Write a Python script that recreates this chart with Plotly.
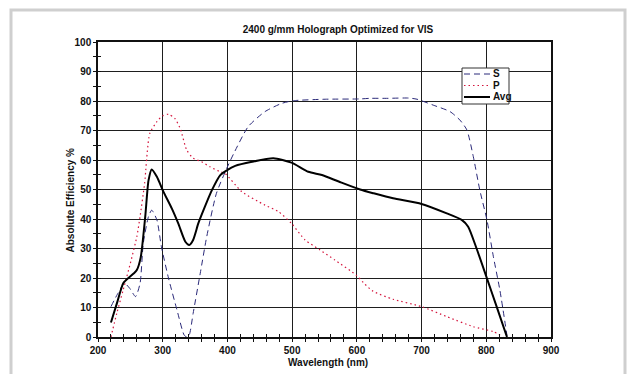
import plotly.graph_objects as go

# ---- data ----
wl_s = [220, 230, 241, 249, 258, 265, 270, 278, 283, 291, 298, 309, 322, 333, 337, 341, 347, 358, 368, 383,
        399, 410, 432, 458, 484, 502, 551, 605, 620, 646, 680, 693, 718, 744, 759, 770, 780, 790, 801, 811, 821, 832]
s_eff = [10.3, 14.5, 18.2, 16.5, 13.7, 18.2, 31.8, 40.8, 43.0, 39.7, 30.6, 19.9, 9.2, 0.7, 0.0, 0.7, 8.0, 21.6, 34.0, 48.7,
         57.2, 62.3, 71.3, 76.4, 79.2, 80.1, 80.6, 80.7, 80.9, 80.9, 81.0, 80.6, 78.6, 76.4, 73.6, 70.2, 61.1, 49.8, 39.7, 27.2, 15.9, 0.5]

wl_p = [220, 229, 239, 250, 260, 265, 272, 280, 291, 300, 309, 319, 327, 337, 347, 360, 373, 389, 396, 422,
        458, 479, 499, 520, 543, 566, 600, 612, 625, 656, 700, 739, 780, 811, 826]
p_eff = [0.0, 8.0, 16.0, 25.0, 34.0, 40.8, 52.0, 69.0, 73.0, 75.0, 75.5, 74.0, 70.7, 63.4, 60.6, 59.4, 57.7, 56.0, 55.5, 49.3,
         44.7, 42.5, 38.5, 32.9, 29.5, 26.1, 20.8, 18.0, 15.5, 12.8, 10.3, 6.9, 3.5, 1.8, 0.0]

wl_a = [220, 230, 239, 247, 255, 260, 266, 273, 278, 283, 291, 301, 314, 324, 335, 341, 347, 355, 363, 376,
        389, 399, 412, 438, 471, 499, 525, 546, 572, 605, 626, 656, 700, 739, 762, 772, 785, 801, 816, 832]
a_eff = [4.9, 12.0, 18.2, 20.0, 21.5, 22.7, 27.0, 40.8, 53.0, 56.8, 54.3, 49.3, 43.6, 38.5, 32.3, 31.2, 32.9, 38.5, 43.0, 49.8,
         54.9, 56.5, 58.0, 59.4, 60.6, 59.1, 56.0, 54.9, 52.7, 50.0, 48.7, 47.0, 45.1, 41.9, 39.7, 37.4, 30.0, 19.9, 10.3, 0.0]

series_names = ["S", "P", "Avg"]
x_ticks = [200, 300, 400, 500, 600, 700, 800, 900]
y_ticks = [0, 10, 20, 30, 40, 50, 60, 70, 80, 90, 100]

title_text = "2400 g/mm Holograph Optimized for VIS"
x_title = "Wavelength (nm)"
y_title = "Absolute Efficiency %"

# ---- layout geometry (pixels) ----
W, H = 630, 374
L, R, T, B = 98, 79, 42, 37
PW, PH = W - L - R, H - T - B


def px(x):
    return (x - L) / PW


def py(y):
    return (H - B - y) / PH


FONT = "Liberation Sans, Arial, sans-serif"
S_COL = "#2b2a7a"
P_COL = "#d4143c"
A_COL = "#000000"

fig = go.Figure()
fig.add_trace(go.Scatter(x=wl_s, y=s_eff, mode="lines", name=series_names[0],
                         line=dict(color=S_COL, width=1, dash="6px,4px", shape="spline", smoothing=0.6),
                         showlegend=False))
fig.add_trace(go.Scatter(x=wl_p, y=p_eff, mode="lines", name=series_names[1],
                         line=dict(color=P_COL, width=1.2, dash="1.5px,3px", shape="spline", smoothing=0.6),
                         showlegend=False))
fig.add_trace(go.Scatter(x=wl_a, y=a_eff, mode="lines", name=series_names[2],
                         line=dict(color=A_COL, width=2, shape="spline", smoothing=0.6),
                         showlegend=False))

tickfont = dict(family=FONT, size=10, color="#111", weight="bold")
grid = "#1e1e1e"

fig.update_layout(
    width=W, height=H,
    margin=dict(l=L, r=R, t=T, b=B, pad=0),
    paper_bgcolor="white", plot_bgcolor="white",
    title=dict(text=title_text, x=px(338), xref="paper", xanchor="center",
               y=1 - 29 / H, yref="container", yanchor="middle",
               font=dict(family=FONT, size=10, color="#111", weight="bold")),
    xaxis=dict(range=[200, 900], tickvals=x_ticks, ticktext=[str(v) for v in x_ticks],
               showgrid=True, gridcolor=grid, gridwidth=1.2,
               showline=True, linecolor="#111", linewidth=1.5, mirror=True,
               ticks="outside", ticklen=3, tickwidth=1, tickcolor="#111",
               minor=dict(dtick=20, ticks="outside", ticklen=3, tickwidth=1, tickcolor="#111", showgrid=False),
               tickfont=tickfont, zeroline=False, fixedrange=True),
    yaxis=dict(range=[0, 100], tickvals=y_ticks, ticktext=[str(v) for v in y_ticks],
               showgrid=True, gridcolor=grid, gridwidth=1.2,
               showline=True, linecolor="#111", linewidth=1.5, mirror=True,
               ticks="outside", ticklen=3, tickwidth=1, tickcolor="#111",
               minor=dict(dtick=5, ticks="outside", ticklen=3, tickwidth=1, tickcolor="#111", showgrid=False),
               tickfont=tickfont, zeroline=False, fixedrange=True),
    xaxis2=dict(overlaying="x", anchor="y", side="bottom", range=[200, 900],
                tickvals=x_ticks, showticklabels=False, showgrid=False, zeroline=False,
                ticks="inside", ticklen=3, tickwidth=1, tickcolor="#111",
                minor=dict(dtick=20, ticks="inside", ticklen=3, tickwidth=1, tickcolor="#111", showgrid=False)),
    yaxis2=dict(overlaying="y", anchor="x", side="left", range=[0, 100],
                tickvals=y_ticks, showticklabels=False, showgrid=False, zeroline=False,
                ticks="inside", ticklen=3, tickwidth=1, tickcolor="#111",
                minor=dict(dtick=5, ticks="inside", ticklen=3, tickwidth=1, tickcolor="#111", showgrid=False)),
    showlegend=False,
)

# invisible trace to activate overlay axes
fig.add_trace(go.Scatter(x=[None], y=[None], xaxis="x2", yaxis="y2", showlegend=False, hoverinfo="skip"))

shapes = []
annotations = []

# outer light-grey frame
shapes.append(dict(type="rect", xref="paper", yref="paper",
                   x0=px(11), x1=px(625), y0=py(390), y1=py(10),
                   line=dict(color="#cfcfcf", width=3), fillcolor="rgba(0,0,0,0)", layer="below"))

# axis titles
annotations.append(dict(text=x_title, xref="paper", yref="paper", x=px(328), y=py(362),
                        showarrow=False, xanchor="center", yanchor="middle",
                        font=dict(family=FONT, size=10, color="#111", weight="bold")))
annotations.append(dict(text=y_title, xref="paper", yref="paper", x=px(69.5), y=py(200),
                        showarrow=False, xanchor="center", yanchor="middle", textangle=-90,
                        font=dict(family=FONT, size=10, color="#111", weight="bold")))

# legend box
shapes.append(dict(type="rect", xref="paper", yref="paper",
                   x0=px(462), x1=px(509), y0=py(104), y1=py(68),
                   line=dict(color="#333", width=1), fillcolor="white", layer="above"))
leg_styles = [(S_COL, 1, "6px,4px", 74), (P_COL, 1.2, "1.5px,3px", 85.5), (A_COL, 2, "solid", 97)]
for name, (col, w, dash, yy) in zip(series_names, leg_styles):
    shapes.append(dict(type="line", xref="paper", yref="paper",
                       x0=px(464), x1=px(490), y0=py(yy), y1=py(yy),
                       line=dict(color=col, width=w, dash=dash), layer="above"))
    annotations.append(dict(text=name, xref="paper", yref="paper", x=px(490.5), y=py(yy),
                            showarrow=False, xanchor="left", yanchor="middle",
                            font=dict(family=FONT, size=10, color="#111", weight="bold")))

fig.update_layout(shapes=shapes, annotations=annotations)

fig.write_html("out.html")
